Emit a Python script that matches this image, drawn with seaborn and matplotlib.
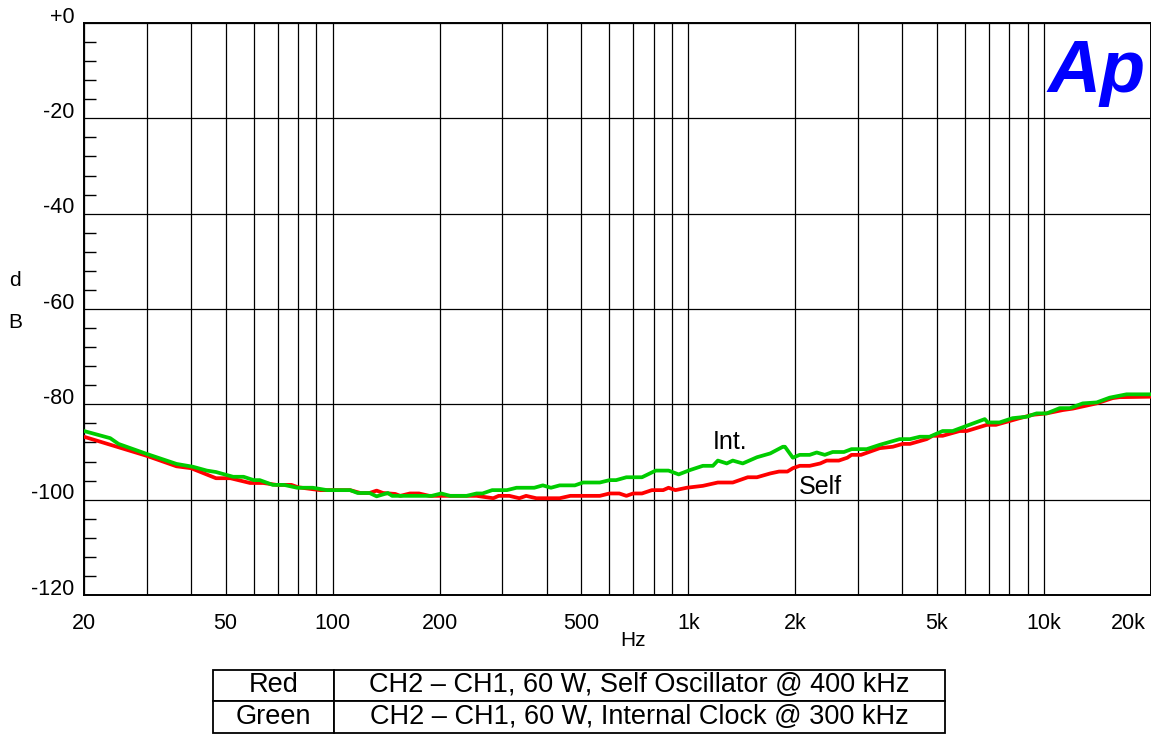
import numpy as np
import pandas as pd
import matplotlib
matplotlib.use("Agg")
import matplotlib.pyplot as plt
import matplotlib.transforms as mtransforms
from matplotlib.ticker import FixedLocator, NullFormatter
import seaborn as sns

# ---------------- data ----------------
red_freq = [20, 30, 36.4, 40, 47, 51.6, 58.6, 63.8, 69.6, 76.6, 80, 90, 92.5, 112,
            119.7, 127, 133, 138.6, 150, 155, 165, 175, 187, 254, 283, 293, 314, 335,
            350, 374, 435, 466, 564, 601, 640, 670, 700, 741, 790, 850, 880, 920, 990,
            1099, 1211, 1334, 1470, 1560, 1700, 1800, 1900, 1968, 2057, 2195, 2350,
            2449, 2650, 2800, 2878, 3060, 3453, 3758, 4009, 4200, 4680, 4865, 5190,
            5794, 6066, 6912, 7330, 8550, 9297, 10180, 11300, 12050, 14070, 15600,
            16300, 20000]
red_db = [-86.8, -90.8, -93.0, -93.4, -95.5, -95.5, -96.5, -96.5, -96.9, -96.9, -97.4,
          -97.9, -98.0, -98.0, -98.6, -98.6, -98.1, -98.6, -98.8, -99.2, -98.7, -98.7,
          -99.2, -99.2, -99.7, -99.2, -99.2, -99.7, -99.2, -99.7, -99.7, -99.2, -99.2,
          -98.7, -98.7, -99.2, -98.7, -98.7, -98.0, -98.0, -97.5, -98.0, -97.5, -97.1,
          -96.4, -96.4, -95.3, -95.3, -94.5, -94.1, -94.1, -93.4, -92.9, -92.9, -92.4,
          -91.8, -91.8, -91.2, -90.6, -90.6, -89.2, -88.9, -88.3, -88.3, -87.3, -86.6,
          -86.6, -85.6, -85.6, -84.3, -84.3, -82.9, -82.2, -81.9, -81.2, -80.9, -79.8,
          -78.7, -78.5, -78.4]

green_freq = [20, 23.7, 25, 30, 36.4, 40.5, 44.3, 47, 52.5, 56.2, 60, 62.4, 67.9, 73,
              79.5, 88, 96.5, 112, 117.6, 127, 133, 143, 147, 160, 190, 202, 214, 238,
              254, 264, 281, 309, 329, 369, 390, 411, 435, 480, 506, 564, 601, 627, 670,
              741, 810, 880, 940, 1010, 1099, 1173, 1211, 1283, 1334, 1423, 1560, 1700,
              1845, 1870, 1968, 2057, 2195, 2297, 2420, 2547, 2740, 2878, 3175, 3453,
              3929, 4200, 4477, 4770, 5190, 5540, 6066, 6818, 6950, 7500, 8166, 8940,
              9535, 10180, 11075, 11830, 12860, 14070, 15300, 17070, 20000]
green_db = [-85.6, -87.1, -88.3, -90.4, -92.5, -93.1, -93.9, -94.2, -95.2, -95.2, -95.9,
            -95.9, -96.9, -96.9, -97.5, -97.5, -98.0, -98.0, -98.6, -98.6, -99.3, -98.6,
            -99.2, -99.2, -99.2, -98.7, -99.2, -99.2, -98.7, -98.7, -98.0, -98.0, -97.5,
            -97.5, -97.0, -97.5, -97.0, -97.0, -96.4, -96.4, -95.9, -95.9, -95.3, -95.3,
            -93.9, -93.9, -94.7, -93.8, -92.9, -92.9, -91.8, -92.4, -91.8, -92.4, -91.1,
            -90.3, -88.9, -88.9, -91.2, -90.6, -90.6, -90.1, -90.6, -90.0, -90.0, -89.4,
            -89.4, -88.5, -87.3, -87.3, -86.8, -86.8, -85.6, -85.6, -84.5, -83.1, -83.8,
            -83.8, -82.9, -82.6, -81.9, -81.9, -80.8, -80.8, -79.8, -79.6, -78.6, -77.9,
            -77.9]

xtick_vals = [20, 50, 100, 200, 500, 1000, 2000, 5000, 10000, 20000]
xtick_labels = ["20", "50", "100", "200", "500", "1k", "2k", "5k", "10k", "20k"]
xgrid_minor = [30, 40, 60, 70, 80, 90, 300, 400, 600, 700, 800, 900,
               3000, 4000, 6000, 7000, 8000, 9000]
ytick_vals = [0, -20, -40, -60, -80, -100, -120]
ytick_labels = ["+0", "-20", "-40", "-60", "-80", "-100", "-120"]

table_rows = [["Red", "CH2 \u2013 CH1, 60 W, Self Oscillator @ 400 kHz"],
              ["Green", "CH2 \u2013 CH1, 60 W, Internal Clock @ 300 kHz"]]

# ---------------- style ----------------
sns.set_style("white")
plt.rcParams["font.family"] = ["Liberation Sans", "DejaVu Sans"]
plt.rcParams["text.color"] = "black"
plt.rcParams["axes.labelcolor"] = "black"
plt.rcParams["xtick.color"] = "black"
plt.rcParams["ytick.color"] = "black"

W, H = 1151, 734
fig = plt.figure(figsize=(W / 100, H / 100), dpi=100)
ax = fig.add_axes([84 / W, 1 - 595 / H, 1 - 84 / W, (595 - 23) / H])
ax.set_xscale("log")

df_red = pd.DataFrame({"Hz": red_freq, "dB": red_db})
df_green = pd.DataFrame({"Hz": green_freq, "dB": green_db})
sns.lineplot(data=df_red, x="Hz", y="dB", color="#ff0000", lw=2.7, ax=ax,
             estimator=None, sort=False, zorder=3)
sns.lineplot(data=df_green, x="Hz", y="dB", color="#00cc00", lw=2.7, ax=ax,
             estimator=None, sort=False, zorder=4)

ax.set_xlim(20, 20000)
ax.set_ylim(-120, 0)
ax.set_xlabel("")
ax.set_ylabel("")

ax.xaxis.set_major_locator(FixedLocator(xtick_vals))
ax.set_xticklabels(xtick_labels)
ax.xaxis.set_minor_locator(FixedLocator(xgrid_minor))
ax.xaxis.set_minor_formatter(NullFormatter())
ax.tick_params(axis="x", which="both", length=0, pad=13, labelsize=15.5, colors="black")

ax.yaxis.set_major_locator(FixedLocator(ytick_vals))
ax.set_yticklabels(ytick_labels)
ax.yaxis.set_minor_locator(FixedLocator([v for v in range(-116, 0, 4) if v % 20 != 0]))
ax.tick_params(axis="y", which="major", left=True, length=0, pad=7, labelsize=15.5,
               colors="black")
ax.tick_params(axis="y", which="minor", left=True, direction="in", length=8.5,
               width=1.0, color="black")

ax.grid(True, axis="x", which="both", color="black", lw=0.9)
ax.grid(True, axis="y", which="major", color="black", lw=0.9)
ax.set_axisbelow(True)

for s in ax.spines.values():
    s.set_visible(True)
    s.set_color("black")
    s.set_linewidth(1.4)

# shift y tick labels upward, last x label leftward
up = mtransforms.ScaledTranslation(0, 6 / 72, fig.dpi_scale_trans)
for lab in ax.get_yticklabels():
    lab.set_transform(lab.get_transform() + up)
xl = ax.get_xticklabels()
left = mtransforms.ScaledTranslation(-23 / 100, 0, fig.dpi_scale_trans)
xl[-1].set_transform(xl[-1].get_transform() + left)

# annotations
ax.text(1172, -87.9, "Int.", fontsize=18, ha="left", va="center", color="black")
ax.text(2045, -97.3, "Self", fontsize=18, ha="left", va="center", color="black")

fig.text(633 / W, 1 - 640 / H, "Hz", fontsize=15, ha="center", va="center")
fig.text(15 / W, 1 - 280 / H, "d", fontsize=15, ha="center", va="center")
fig.text(15 / W, 1 - 323 / H, "B", fontsize=15, ha="center", va="center")

fig.text(1146 / W, 1 - 92 / H, "Ap", color="#0000ff", fontsize=53, fontweight="bold",
         fontstyle="italic", ha="right", va="baseline")

# table
tax = fig.add_axes([213 / W, 1.5 / H, (945 - 213) / W, (733 - 670) / H])
tax.axis("off")
tbl = tax.table(cellText=table_rows, colWidths=[121 / 732, 611 / 732], cellLoc="center",
                bbox=[0, 0, 1, 1])
tbl.auto_set_font_size(False)
tbl.set_fontsize(19.5)
for cell in tbl.get_celld().values():
    cell.set_linewidth(1.3)
    cell.set_edgecolor("black")
    cell.get_text().set_color("black")

fig.savefig("out.png", dpi=100)
